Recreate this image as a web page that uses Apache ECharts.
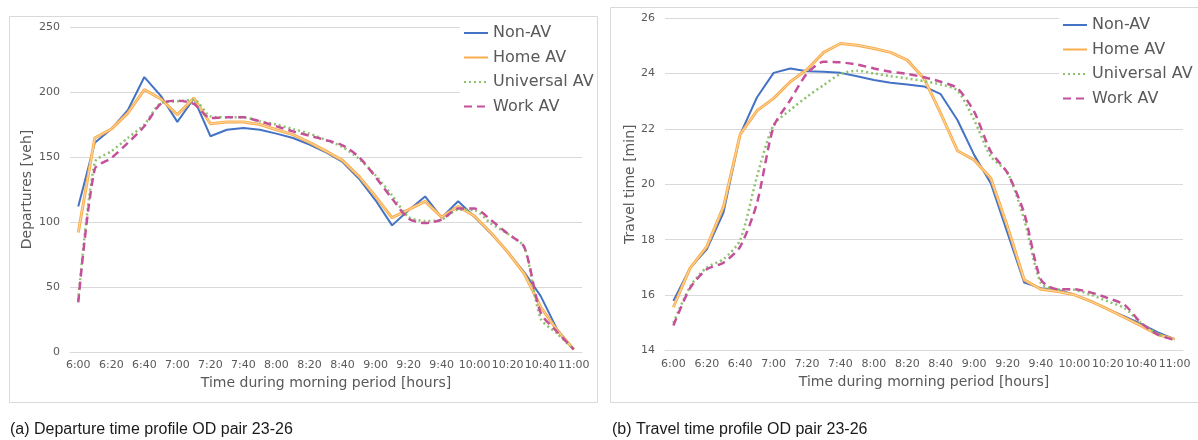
<!DOCTYPE html>
<html>
<head>
<meta charset="utf-8">
<script src="https://cdn.jsdelivr.net/npm/echarts@6/dist/echarts.min.js"></script>
<style>
  html, body { margin: 0; padding: 0; background: #fff; }
  #chart { width: 1198px; height: 440px; }
</style>
</head>
<body>
<div id="chart"></div>
<script>
// time of day, every 10 minutes
const times = ['6:00', '6:10', '6:20', '6:30', '6:40', '6:50', '7:00', '7:10', '7:20', '7:30', '7:40', '7:50',
  '8:00', '8:10', '8:20', '8:30', '8:40', '8:50', '9:00', '9:10', '9:20', '9:30', '9:40', '9:50',
  '10:00', '10:10', '10:20', '10:30', '10:40', '10:50', '11:00']

// (a) departures [veh]
const depNonAV = [112, 161, 171.5, 186, 211.5, 197, 177, 195, 166, 171, 172.3, 171, 168, 164.6, 159.5, 153.5,
  146.2, 133.3, 116.7, 97.4, 109, 119.7, 103.3, 115.9, 103.8, 91, 76.9, 61.5, 43, 17.2, 2]
const depHomeAV = [92, 164.6, 171.5, 183.8, 201.8, 194.6, 182.6, 195.4, 175.6, 177, 177, 175, 171, 167.2, 161.3, 154.5,
  147.4, 135.1, 119.7, 103.3, 109.5, 115.9, 103.8, 112, 104.4, 91.5, 76.9, 60.3, 34.6, 16.7, 2]
const depUnivAV = [40, 145.9, 154.4, 164.6, 175, 191.5, 192.8, 194, 181.3, 180.5, 180.5, 177.4, 175, 171.5, 168, 163,
  157.7, 148.7, 135.9, 120.5, 103.8, 100.8, 101.8, 109.5, 109, 98.7, 91, 80.8, 25.6, 14.1, 2]
const depWorkAV = [38.2, 140.8, 149.2, 160.8, 173.6, 191, 193.3, 190.8, 180, 180.5, 180.5, 177.4, 173.6, 169.7, 166.4, 163,
  159, 150, 134.6, 118, 102.6, 99.2, 101.8, 110.3, 110.3, 101.3, 91, 80.8, 30, 15.4, 2]

// (b) travel time [min]
const ttNonAV = [15.79, 16.97, 17.65, 18.98, 21.8, 23.13, 24.02, 24.18, 24.08, 24.06, 24.02, 23.9, 23.76, 23.66, 23.6, 23.53,
  23.25, 22.32, 21.06, 20.03, 18.23, 16.45, 16.25, 16.19, 16.01, 15.77, 15.49, 15.23, 14.96, 14.65, 14.41]
const ttHomeAV = [15.56, 16.97, 17.75, 19.19, 21.8, 22.65, 23.1, 23.7, 24.14, 24.76, 25.08, 25.02, 24.9, 24.76, 24.48, 23.82,
  22.56, 21.21, 20.88, 20.22, 18.47, 16.55, 16.21, 16.13, 16.01, 15.77, 15.49, 15.19, 14.89, 14.57, 14.41]
const ttUnivAV = [15.0, 16.3, 17.0, 17.3, 17.99, 20.27, 22.14, 22.68, 23.16, 23.58, 23.98, 24.1, 24.0, 23.9, 23.82, 23.72,
  23.6, 23.38, 22.32, 21.0, 20.42, 18.71, 16.43, 16.21, 16.19, 16.01, 15.77, 15.53, 14.99, 14.6, 14.38]
const ttWorkAV = [14.9, 16.25, 16.93, 17.17, 17.75, 19.31, 22.08, 23.04, 24.0, 24.42, 24.4, 24.32, 24.18, 24.06, 23.98, 23.86,
  23.7, 23.46, 22.62, 21.18, 20.4, 18.95, 16.55, 16.21, 16.21, 16.09, 15.89, 15.65, 14.99, 14.57, 14.38]

const seriesNames = ['Non-AV', 'Home AV', 'Universal AV', 'Work AV']

const FONT = 'DejaVu Sans'
const GREY = '#595959'
const GRIDLINE = '#D9D9D9'

const chart = echarts.init(document.getElementById('chart'))

function lineStyleFor(name) {
  if (name === 'Non-AV') return { color: '#4472C4', width: 2, type: 'solid' }
  if (name === 'Home AV') return { color: '#F8AE4E', width: 3, type: 'solid' }
  if (name === 'Universal AV') return { color: '#8DC26C', width: 2.5, type: [2, 3] }
  return { color: '#C5509A', width: 2.5, type: [8, 5] }
}

function makeSeries(idx, dataByName) {
  const out = []
  seriesNames.forEach(name => {
    const ls = lineStyleFor(name)
    out.push({
      name,
      type: 'line',
      xAxisIndex: idx,
      yAxisIndex: idx,
      data: dataByName[name],
      symbol: 'none',
      smooth: (name === 'Universal AV' || name === 'Work AV') ? 0.25 : false,
      lineStyle: ls,
      itemStyle: { color: ls.color },
      silent: true
    })
    // 双线效果 (Home AV 中间的浅色细线)
    if (name === 'Home AV') {
      out.push({
        name: 'Home AV inner',
        type: 'line',
        xAxisIndex: idx,
        yAxisIndex: idx,
        data: dataByName[name],
        symbol: 'none',
        lineStyle: { color: '#FFE3BD', width: 0.8 },
        silent: true
      })
    }
  })
  return out
}

function xAxisFor(idx, nameGap) {
  return {
    type: 'category',
    gridIndex: idx,
    data: times,
    boundaryGap: true,
    name: 'Time during morning period [hours]',
    nameLocation: 'middle',
    nameGap,
    nameTextStyle: { color: GREY, fontSize: 14, fontFamily: FONT },
    axisLine: { lineStyle: { color: GRIDLINE } },
    axisTick: { show: false },
    axisLabel: { interval: 1, color: GREY, fontSize: 11, fontFamily: FONT, margin: 8 },
    splitLine: { show: false }
  }
}

function legendFor(left, top, padding) {
  return {
    data: seriesNames,
    orient: 'vertical',
    left,
    top,
    padding,
    itemWidth: 24,
    itemHeight: 14,
    itemGap: 8.5,
    backgroundColor: '#fff',
    itemStyle: { opacity: 0 },
    textStyle: { color: GREY, fontSize: 16, fontFamily: FONT },
    selectedMode: false
  }
}

const option = {
  animation: false,
  backgroundColor: '#fff',
  title: [
    { text: '(a) Departure time profile OD pair 23-26', left: 5, top: 417,
      textStyle: { color: '#1a1a1a', fontSize: 16, fontWeight: 'normal', fontFamily: 'Liberation Sans' } },
    { text: '(b) Travel time profile OD pair 23-26', left: 607, top: 417,
      textStyle: { color: '#1a1a1a', fontSize: 16, fontWeight: 'normal', fontFamily: 'Liberation Sans' } }
  ],
  graphic: [
    { type: 'rect', z: 100, shape: { x: 9.5, y: 16.5, width: 588, height: 386 },
      style: { fill: 'none', stroke: GRIDLINE, lineWidth: 1 } },
    { type: 'rect', z: 100, shape: { x: 610.5, y: 7.5, width: 600, height: 395 },
      style: { fill: 'none', stroke: GRIDLINE, lineWidth: 1 } }
  ],
  legend: [
    legendFor(460, 18, [7, 3, 30, 3]),
    legendFor(1059, 10, [7, 3, 15, 3])
  ],
  grid: [
    { left: 70, right: 616, top: 27, bottom: 88 },
    { left: 665, right: 15, top: 18, bottom: 89.5 }
  ],
  xAxis: [xAxisFor(0, 24), xAxisFor(1, 25)],
  yAxis: [
    {
      type: 'value', gridIndex: 0, min: 0, max: 250, interval: 50,
      name: 'Departures [veh]', nameLocation: 'middle', nameGap: 36,
      nameTextStyle: { color: GREY, fontSize: 14, fontFamily: FONT },
      axisLine: { show: false }, axisTick: { show: false },
      axisLabel: { color: GREY, fontSize: 11, fontFamily: FONT, margin: 10 },
      splitLine: { lineStyle: { color: GRIDLINE } }
    },
    {
      type: 'value', gridIndex: 1, min: 14, max: 26, interval: 2,
      name: 'Travel time [min]', nameLocation: 'middle', nameGap: 27,
      nameTextStyle: { color: GREY, fontSize: 14, fontFamily: FONT },
      axisLine: { show: false }, axisTick: { show: false },
      axisLabel: { color: GREY, fontSize: 11, fontFamily: FONT, margin: 10 },
      splitLine: { lineStyle: { color: GRIDLINE } }
    }
  ],
  series: [
    ...makeSeries(0, { 'Non-AV': depNonAV, 'Home AV': depHomeAV, 'Universal AV': depUnivAV, 'Work AV': depWorkAV }),
    ...makeSeries(1, { 'Non-AV': ttNonAV, 'Home AV': ttHomeAV, 'Universal AV': ttUnivAV, 'Work AV': ttWorkAV })
  ]
}

chart.setOption(option)
</script>
</body>
</html>
